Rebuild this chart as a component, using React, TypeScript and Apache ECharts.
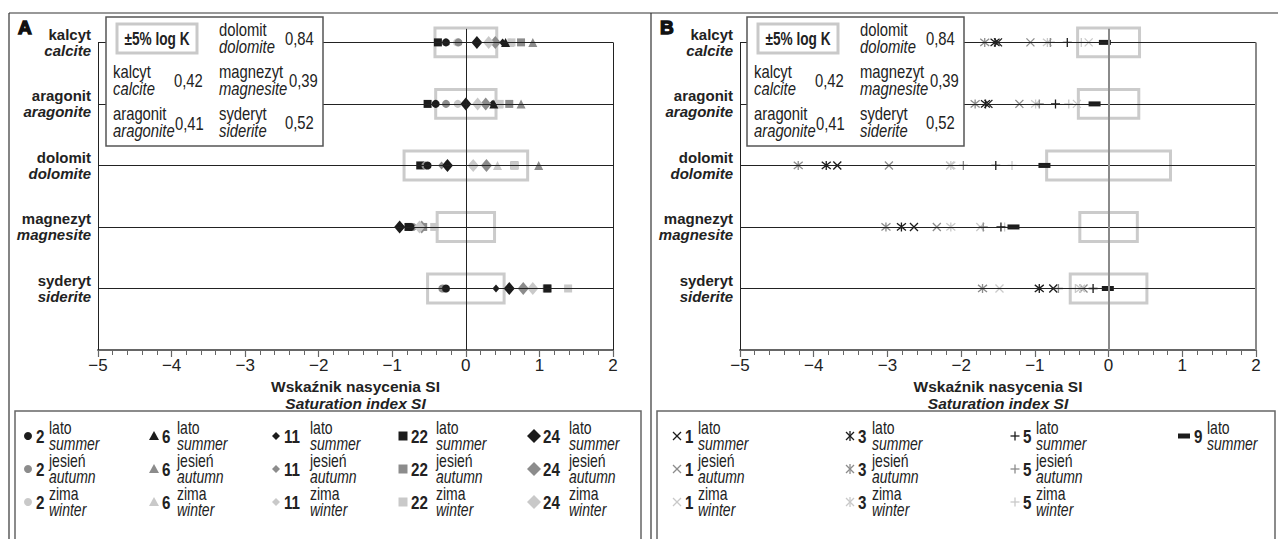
import React, { useEffect, useRef } from 'react';
import * as echarts from 'echarts';

const FONT = '"Liberation Sans",Arial,Helvetica,sans-serif';

// rows (top to bottom)
const minerals = ['kalcyt', 'aragonit', 'dolomit', 'magnezyt', 'syderyt'];
const mineralsEn = ['calcite', 'aragonite', 'dolomite', 'magnesite', 'siderite'];
const rowPos = [5, 4, 3, 2, 1];
const logK = [0.42, 0.41, 0.84, 0.39, 0.52];

const seasonsPl = ['lato', 'jesień', 'zima'];
const seasonsEn = ['summer', 'autumn', 'winter'];
const seasonColors = ['#1c1c1c', '#8c8c8c', '#c9c9c9'];

// Panel A wells
const wellsA = ['2', '6', '11', '22', '24'];
// values per mineral: calcite, aragonite, dolomite, magnesite, siderite
const w2Summer = [-0.27, -0.41, -0.52, -0.75, -0.27];
const w2Autumn = [-0.10, -0.27, -0.55, -0.72, -0.32];
const w2Winter = [-0.12, -0.11, 0.10, -0.62, -0.30];
const w6Summer = [0.54, 0.38, null, null, null];
const w6Autumn = [0.91, 0.75, 0.99, null, null];
const w6Winter = [0.60, 0.45, 0.43, null, null];
const w11Summer = [0.50, 0.36, -0.27, -0.88, 0.41];
const w11Autumn = [0.42, 0.26, -0.33, -0.60, 0.77];
const w11Winter = [0.30, 0.15, 0.12, -0.63, 0.90];
const w22Summer = [-0.38, -0.52, -0.62, -0.78, 1.11];
const w22Autumn = [0.75, 0.59, 0.66, -0.58, 1.10];
const w22Winter = [0.62, 0.46, 0.66, -0.43, 1.39];
const w24Summer = [0.15, 0.00, -0.25, -0.90, 0.59];
const w24Autumn = [0.40, 0.27, 0.28, -0.60, 0.78];
const w24Winter = [0.31, 0.16, 0.10, -0.63, 0.91];

// Panel B wells
const wellsB = ['1', '3', '5', '9'];
const w1Summer = [-1.50, -1.63, -3.68, -2.64, -0.75];
const w1Autumn = [-1.06, -1.21, -2.98, -2.33, -0.34];
const w1Winter = [-0.27, -0.43, -2.15, -1.74, -1.48];
const w3Summer = [-1.54, -1.67, -3.83, -2.81, -0.94];
const w3Autumn = [-1.68, -1.81, -4.21, -3.02, -1.71];
const w3Winter = [-0.83, -0.99, -2.14, -2.14, -0.38];
const w5Summer = [-0.56, -0.72, -1.53, -1.46, -0.21];
const w5Autumn = [-0.79, -0.94, -1.97, -1.70, -0.68];
const w5Winter = [-0.37, -0.54, -1.31, -1.41, -0.45];
const w9Summer = [-0.05, -0.19, -0.87, -1.29, -0.01];

const tableA = [
  { well: '22', season: 1, values: w22Autumn }, { well: '22', season: 2, values: w22Winter }, { well: '22', season: 0, values: w22Summer },
  { well: '2', season: 2, values: w2Winter }, { well: '2', season: 1, values: w2Autumn }, { well: '2', season: 0, values: w2Summer },
  { well: '6', season: 1, values: w6Autumn }, { well: '6', season: 2, values: w6Winter }, { well: '6', season: 0, values: w6Summer },
  { well: '11', season: 1, values: w11Autumn }, { well: '11', season: 2, values: w11Winter }, { well: '11', season: 0, values: w11Summer },
  { well: '24', season: 1, values: w24Autumn }, { well: '24', season: 2, values: w24Winter }, { well: '24', season: 0, values: w24Summer },
];
const tableB = [
  { well: '1', season: 1, values: w1Autumn }, { well: '1', season: 2, values: w1Winter }, { well: '1', season: 0, values: w1Summer },
  { well: '3', season: 1, values: w3Autumn }, { well: '3', season: 2, values: w3Winter }, { well: '3', season: 0, values: w3Summer },
  { well: '5', season: 1, values: w5Autumn }, { well: '5', season: 2, values: w5Winter }, { well: '5', season: 0, values: w5Summer },
  { well: '9', season: 0, values: w9Summer },
];

const CROSS = 'path://M0,0L10,10M10,0L0,10';
const STAR = 'path://M1,1L9,9M9,1L1,9M5,0L5,10';
const PLUS = 'path://M5,0L5,10M0,5L10,5';

const symA: Record<string, { symbol: string; size: any }> = {
  '2': { symbol: 'circle', size: 8 },
  '6': { symbol: 'triangle', size: 9 },
  '11': { symbol: 'diamond', size: [7, 8] },
  '22': { symbol: 'rect', size: 8 },
  '24': { symbol: 'diamond', size: [11, 13] },
};
const symB: Record<string, { symbol: string; size: any; stroke: boolean }> = {
  '1': { symbol: CROSS, size: 8, stroke: true },
  '3': { symbol: STAR, size: 9, stroke: true },
  '5': { symbol: PLUS, size: 9, stroke: true },
  '9': { symbol: 'rect', size: [12, 5], stroke: false },
};

const fmtK = (v: number) => v.toFixed(2).replace('.', ',');

function T(x: number, y: number, text: string, o: any = {}, sx = 0.8) {
  return {
    type: 'text', x, y, z: 100, silent: true, scaleX: sx,
    style: { text, fontFamily: FONT, fontSize: 18.5, fill: '#222', align: 'left', verticalAlign: 'middle', ...o },
  };
}

function inset(ox: number) {
  const els: any[] = [];
  els.push({ type: 'rect', z: 99, silent: true, shape: { x: 106 + ox, y: 17, width: 217, height: 129 }, style: { fill: '#fff', stroke: '#555', lineWidth: 1.5 } });
  els.push({ type: 'rect', z: 100, silent: true, shape: { x: 117 + ox, y: 24, width: 80, height: 29 }, style: { fill: 'none', stroke: '#c9c9c9', lineWidth: 3 } });
  els.push(T(157 + ox, 39, '±5% log K', { fontWeight: 'bold', fontSize: 17.5, align: 'center' }, 0.78));
  // [mineral index, x, y, valueX, valueY]
  const pos = [
    [2, 219, 30, 285, 39],
    [0, 113, 72, 174, 81],
    [3, 219, 72, 289, 81],
    [1, 113, 114, 175, 124],
    [4, 219, 114, 285, 123],
  ];
  pos.forEach(([i, x, y, vx, vy]) => {
    els.push(T(x + ox, y, minerals[i]));
    els.push(T(x + ox, y + 17, mineralsEn[i], { fontStyle: 'italic' }));
    els.push(T(vx + ox, vy, fmtK(logK[i])));
  });
  return els;
}

function legend() {
  const els: any[] = [];
  const rowsY = [436, 469, 502];
  // Panel A legend
  const symX = [28, 154, 276, 403, 534];
  const numX = [36, 162, 284, 411, 543];
  const labX = [49, 177, 310, 436, 569];
  wellsA.forEach((w, c) => {
    [0, 1, 2].forEach((s) => {
      const y = rowsY[s];
      const x = symX[c];
      const fill = seasonColors[s];
      if (w === '2') els.push({ type: 'circle', silent: true, shape: { cx: x, cy: y, r: 4 }, style: { fill } });
      if (w === '6') els.push({ type: 'polygon', silent: true, shape: { points: [[x, y - 5], [x + 5, y + 4], [x - 5, y + 4]] }, style: { fill } });
      if (w === '11') els.push({ type: 'polygon', silent: true, shape: { points: [[x, y - 4], [x + 4, y], [x, y + 4], [x - 4, y]] }, style: { fill } });
      if (w === '22') els.push({ type: 'rect', silent: true, shape: { x: x - 4.5, y: y - 4.5, width: 9, height: 9 }, style: { fill } });
      if (w === '24') els.push({ type: 'polygon', silent: true, shape: { points: [[x, y - 7], [x + 7, y], [x, y + 7], [x - 7, y]] }, style: { fill } });
      els.push(T(numX[c], y + 1, w, { fontWeight: 'bold', fontSize: 18.5 }, 0.82));
      els.push(T(labX[c], y - 8, seasonsPl[s], { fontSize: 17.5 }));
      els.push(T(labX[c], y + 8, seasonsEn[s], { fontSize: 17.5, fontStyle: 'italic' }));
    });
  });
  // Panel B legend
  const bSym = [677, 850, 1015, 1184];
  const bNum = [685, 858, 1023, 1194];
  const bLab = [698, 872, 1036, 1207];
  wellsB.forEach((w, c) => {
    const seasons = w === '9' ? [0] : [0, 1, 2];
    seasons.forEach((s) => {
      const y = rowsY[s];
      const x = bSym[c];
      const stroke = seasonColors[s];
      const ln = (x1: number, y1: number, x2: number, y2: number) =>
        els.push({ type: 'line', silent: true, shape: { x1, y1, x2, y2 }, style: { stroke, lineWidth: 1.3 } });
      if (w === '1' || w === '3') { ln(x - 4, y - 4, x + 4, y + 4); ln(x + 4, y - 4, x - 4, y + 4); }
      if (w === '3') ln(x, y - 5, x, y + 5);
      if (w === '5') { ln(x - 4.5, y, x + 4.5, y); ln(x, y - 4.5, x, y + 4.5); }
      if (w === '9') els.push({ type: 'rect', silent: true, shape: { x: x - 6, y: y - 2.5, width: 12, height: 5 }, style: { fill: stroke } });
      els.push(T(bNum[c], y + 1, w, { fontWeight: 'bold', fontSize: 18.5 }, 0.82));
      els.push(T(bLab[c], y - 8, seasonsPl[s], { fontSize: 17.5 }));
      els.push(T(bLab[c], y + 8, seasonsEn[s], { fontSize: 17.5, fontStyle: 'italic' }));
    });
  });
  return els;
}

function frames() {
  const L = (x1: number, y1: number, x2: number, y2: number, stroke = '#333', lineWidth = 1.2) =>
    ({ type: 'line', silent: true, z: 50, shape: { x1, y1, x2, y2 }, style: { stroke, lineWidth } });
  return [
    L(9, 13, 1278, 13),
    L(9, 13, 9, 539),
    L(651, 13, 651, 539),
    { type: 'rect', silent: true, z: 50, shape: { x: 15, y: 411, width: 626, height: 140 }, style: { fill: 'none', stroke: '#666', lineWidth: 1.5 } },
    { type: 'rect', silent: true, z: 50, shape: { x: 657, y: 411, width: 618, height: 140 }, style: { fill: 'none', stroke: '#666', lineWidth: 1.5 } },
    T(18, 27, 'A', { fontWeight: 'bold', fontSize: 19, stroke: '#111', lineWidth: 1.4, fill: '#111' }, 1),
    T(660, 27, 'B', { fontWeight: 'bold', fontSize: 19, stroke: '#111', lineWidth: 1.4, fill: '#111' }, 1),
  ];
}

function frameSeries(idx: number, axisColor: string, zeroWidth: number) {
  const base = { color: '#222', width: 1, type: 'solid' };
  const lines: any[] = rowPos.map((y) => [{ coord: [-5, y], lineStyle: base }, { coord: [2, y] }]);
  lines.push([{ coord: [-5, 0], lineStyle: base }, { coord: [-5, 5] }]);
  lines.push([{ coord: [2, 0], lineStyle: { color: axisColor, width: zeroWidth, type: 'solid' } }, { coord: [2, 5] }]);
  lines.push([{ coord: [0, 0], lineStyle: { color: axisColor, width: zeroWidth, type: 'solid' } }, { coord: [0, 5.22] }]);
  return {
    type: 'scatter', xAxisIndex: idx, yAxisIndex: idx, data: [], silent: true, z: 1,
    markArea: {
      silent: true,
      label: { show: false },
      itemStyle: { color: 'rgba(0,0,0,0)', borderColor: '#cbcbcb', borderWidth: 3 },
      data: rowPos.map((y, i) => [{ coord: [-logK[i], y - 0.235] }, { coord: [logK[i], y + 0.235] }]),
    },
    markLine: { silent: true, symbol: ['none', 'none'], label: { show: false }, data: lines },
  };
}

function toData(values: (number | null)[]) {
  return values.map((v, i) => (v == null ? null : [v, rowPos[i]])).filter((d) => d != null);
}

function axesX(idx: number) {
  return {
    type: 'value', gridIndex: idx, min: -5, max: 2, interval: 1,
    axisLine: { show: true, lineStyle: { color: '#666', width: 2 } },
    axisTick: { show: true, length: 7, lineStyle: { color: '#666', width: 1.2 } },
    minorTick: { show: true, splitNumber: 5, length: 5, lineStyle: { color: '#666', width: 1 } },
    splitLine: { show: false },
    axisLabel: {
      margin: 7, fontFamily: FONT, fontSize: 17, color: '#222',
      formatter: (v: number) => (v < 0 ? '\u2212' + Math.abs(v) : String(v)),
    },
    name: '{a|Wskaźnik nasycenia SI}\n{b|Saturation index SI}',
    nameLocation: 'middle', nameGap: 25,
    nameTextStyle: {
      rich: {
        a: { fontFamily: FONT, fontSize: 15.5, fontWeight: 'bold', color: '#222', lineHeight: 17, align: 'center' },
        b: { fontFamily: FONT, fontSize: 15.5, fontWeight: 'bold', fontStyle: 'italic', color: '#222', lineHeight: 17, align: 'center' },
      },
    },
  };
}

function axesY(idx: number) {
  return {
    type: 'value', gridIndex: idx, min: 0, max: 5.25, interval: 1,
    axisLine: { show: false }, axisTick: { show: false }, splitLine: { show: false },
    axisLabel: {
      margin: 7, showMaxLabel: false,
      formatter: (v: number) => {
        const i = rowPos.indexOf(v);
        return i < 0 ? '' : `{a|${minerals[i]}}\n{b|${mineralsEn[i]}}`;
      },
      rich: {
        a: { fontFamily: FONT, fontSize: 15, fontWeight: 'bold', color: '#222', lineHeight: 16, align: 'right' },
        b: { fontFamily: FONT, fontSize: 15, fontWeight: 'bold', fontStyle: 'italic', color: '#222', lineHeight: 16, align: 'right' },
      },
    },
  };
}

export default function App() {
  const ref = useRef<HTMLDivElement>(null);
  useEffect(() => {
    if (!ref.current) return;
    const chart = echarts.init(ref.current, undefined, { renderer: 'svg' });
    const series: any[] = [frameSeries(0, '#222', 1), frameSeries(1, '#8a8a8a', 2)];
    tableA.forEach((r) => {
      series.push({
        type: 'scatter', xAxisIndex: 0, yAxisIndex: 0, z: 3, silent: true,
        name: `${r.well} ${seasonsPl[r.season]}`,
        symbol: symA[r.well].symbol, symbolSize: symA[r.well].size,
        itemStyle: { color: seasonColors[r.season], opacity: 1 },
        data: toData(r.values),
      });
    });
    tableB.forEach((r) => {
      const s = symB[r.well];
      series.push({
        type: 'scatter', xAxisIndex: 1, yAxisIndex: 1, z: 3, silent: true,
        name: `${r.well} ${seasonsPl[r.season]}`,
        symbol: s.symbol, symbolSize: s.size,
        itemStyle: s.stroke
          ? { color: 'rgba(0,0,0,0)', borderColor: seasonColors[r.season], borderWidth: 1.3, opacity: 1 }
          : { color: seasonColors[r.season], opacity: 1 },
        data: toData(r.values),
      });
    });
    chart.setOption({
      animation: false,
      backgroundColor: '#fff',
      grid: [
        { left: 98, width: 515, top: 27, height: 323 },
        { left: 740, width: 516, top: 27, height: 323 },
      ],
      xAxis: [axesX(0), axesX(1)],
      yAxis: [axesY(0), axesY(1)],
      series,
      graphic: { elements: [...frames(), ...inset(0), ...inset(641), ...legend()] },
    });
    return () => chart.dispose();
  }, []);
  return <div ref={ref} style={{ position: 'fixed', left: 0, top: 0, width: 1278, height: 539 }} />;
}
